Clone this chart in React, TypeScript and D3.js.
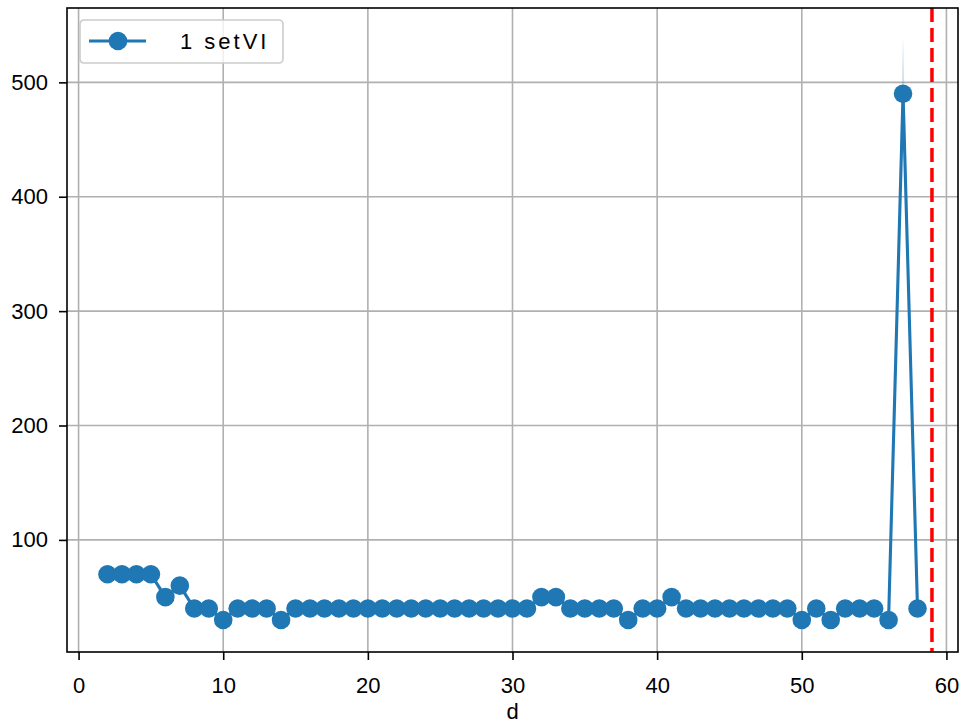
import React, { useEffect, useRef } from 'react';
import * as d3 from 'd3';

// values
const days = [2, 3, 4, 5, 6, 7, 8, 9, 10, 11, 12, 13, 14, 15, 16, 17, 18, 19, 20, 21, 22, 23, 24, 25, 26, 27, 28, 29, 30, 31, 32, 33, 34, 35, 36, 37, 38, 39, 40, 41, 42, 43, 44, 45, 46, 47, 48, 49, 50, 51, 52, 53, 54, 55, 56, 57, 58];
const values = [70, 70, 70, 70, 50, 60, 40, 40, 30, 40, 40, 40, 30, 40, 40, 40, 40, 40, 40, 40, 40, 40, 40, 40, 40, 40, 40, 40, 40, 40, 50, 50, 40, 40, 40, 40, 30, 40, 40, 50, 40, 40, 40, 40, 40, 40, 40, 40, 30, 40, 30, 40, 40, 40, 30, 490, 40];
const upperBand = [70, 70, 70, 72, 54, 63, 42, 40, 30, 40, 40, 40, 30, 40, 40, 40, 40, 40, 40, 40, 40, 40, 40, 40, 40, 40, 40, 40, 40, 40, 50, 50, 40, 40, 40, 40, 30, 40, 40, 50, 40, 40, 40, 40, 40, 40, 40, 40, 30, 40, 30, 40, 40, 40, 30, 540, 40];
const lowerBand = [70, 70, 70, 68, 46, 57, 38, 40, 30, 40, 40, 40, 30, 40, 40, 40, 40, 40, 40, 40, 40, 40, 40, 40, 40, 40, 40, 40, 40, 40, 50, 50, 40, 40, 40, 40, 30, 40, 40, 50, 40, 40, 40, 40, 40, 40, 40, 40, 30, 40, 30, 40, 40, 40, 30, 480, 40];
const xTicks = [0, 10, 20, 30, 40, 50, 60];
const yTicks = [100, 200, 300, 400, 500];
const cutoffDay = 59;
const seriesLabel = '1 setVI';
const xLabel = 'd';

const WIDTH = 965;
const HEIGHT = 725;
const BLUE = '#1f77b4';
const FONT = '"Liberation Sans", Arial, sans-serif';
const FONT_SIZE = '22px';

const App: React.FC = () => {
    const svgRef = useRef<SVGSVGElement>(null);

    useEffect(() => {
        if (!svgRef.current) return;
        const svg = d3.select(svgRef.current);
        svg.selectAll('*').remove();

        const margin = { top: 8, right: 7, bottom: 73, left: 67 };
        const width = WIDTH - margin.left - margin.right;
        const height = HEIGHT - margin.top - margin.bottom;

        const x = d3.scaleLinear().domain([-0.8, 60.8]).range([0, width]);
        const y = d3.scaleLinear().domain([2, 565]).range([height, 0]);

        const g = svg.append('g').attr('transform', `translate(${margin.left},${margin.top})`);

        g.append('defs').append('clipPath').attr('id', 'plot-clip')
            .append('rect').attr('width', width).attr('height', height);

        // grid
        g.append('g')
            .selectAll('line')
            .data(xTicks)
            .join('line')
            .attr('x1', d => x(d)).attr('x2', d => x(d))
            .attr('y1', 0).attr('y2', height)
            .attr('stroke', '#b0b0b0').attr('stroke-width', 1.6);
        g.append('g')
            .selectAll('line')
            .data(yTicks)
            .join('line')
            .attr('x1', 0).attr('x2', width)
            .attr('y1', d => y(d)).attr('y2', d => y(d))
            .attr('stroke', '#b0b0b0').attr('stroke-width', 1.6);

        const plot = g.append('g').attr('clip-path', 'url(#plot-clip)');

        const band = d3.area<number>()
            .x((_, i) => x(days[i]))
            .y0((_, i) => y(lowerBand[i]))
            .y1((_, i) => y(upperBand[i]));
        plot.append('path')
            .datum(values)
            .attr('d', band)
            .attr('fill', BLUE)
            .attr('fill-opacity', 0.2);

        const line = d3.line<number>()
            .x((_, i) => x(days[i]))
            .y(d => y(d));
        plot.append('path')
            .datum(values)
            .attr('d', line)
            .attr('fill', 'none')
            .attr('stroke', BLUE)
            .attr('stroke-width', 3.1)
            .attr('stroke-linejoin', 'round');

        plot.selectAll('circle')
            .data(values)
            .join('circle')
            .attr('cx', (_, i) => x(days[i]))
            .attr('cy', d => y(d))
            .attr('r', 9.3)
            .attr('fill', BLUE);

        plot.append('line')
            .attr('x1', x(cutoffDay)).attr('x2', x(cutoffDay))
            .attr('y1', 0).attr('y2', height)
            .attr('stroke', 'red')
            .attr('stroke-width', 3.5)
            .attr('stroke-dasharray', '14,6');

        // axes
        const xAxis = g.append('g')
            .attr('transform', `translate(0,${height})`)
            .call(d3.axisBottom(x).tickValues(xTicks).tickSize(8).tickPadding(17).tickFormat(d3.format('d')));
        const yAxis = g.append('g')
            .call(d3.axisLeft(y).tickValues(yTicks).tickSize(8).tickPadding(11).tickFormat(d3.format('d')));
        [xAxis, yAxis].forEach(a => {
            a.select('.domain').remove();
            a.selectAll('.tick line').attr('stroke', '#000').attr('stroke-width', 1.6);
            a.selectAll('.tick text')
                .attr('fill', '#000')
                .style('font-family', FONT)
                .style('font-size', FONT_SIZE);
        });

        g.append('rect')
            .attr('width', width)
            .attr('height', height)
            .attr('fill', 'none')
            .attr('stroke', '#000')
            .attr('stroke-width', 1.6);

        g.append('text')
            .attr('x', width / 2)
            .attr('y', height + 67)
            .attr('text-anchor', 'middle')
            .style('font-family', FONT)
            .style('font-size', FONT_SIZE)
            .text(xLabel);

        // legend
        const legend = g.append('g').attr('transform', 'translate(13,12)');
        legend.append('rect')
            .attr('width', 203)
            .attr('height', 43)
            .attr('rx', 4)
            .attr('fill', 'rgba(255,255,255,0.8)')
            .attr('stroke', '#cccccc')
            .attr('stroke-width', 1.6);
        legend.append('line')
            .attr('x1', 9).attr('x2', 66)
            .attr('y1', 21).attr('y2', 21)
            .attr('stroke', BLUE).attr('stroke-width', 3.1);
        legend.append('circle')
            .attr('cx', 38).attr('cy', 21).attr('r', 9.3)
            .attr('fill', BLUE);
        legend.append('text')
            .attr('x', 100)
            .attr('y', 29)
            .style('font-family', FONT)
            .style('font-size', FONT_SIZE)
            .style('letter-spacing', '3px')
            .text(seriesLabel);
    }, []);

    return (
        <div style={{ position: 'absolute', left: 0, top: 0 }}>
            <svg ref={svgRef} width={WIDTH} height={HEIGHT} style={{ display: 'block', background: '#fff' }} />
        </div>
    );
};

export default App;
